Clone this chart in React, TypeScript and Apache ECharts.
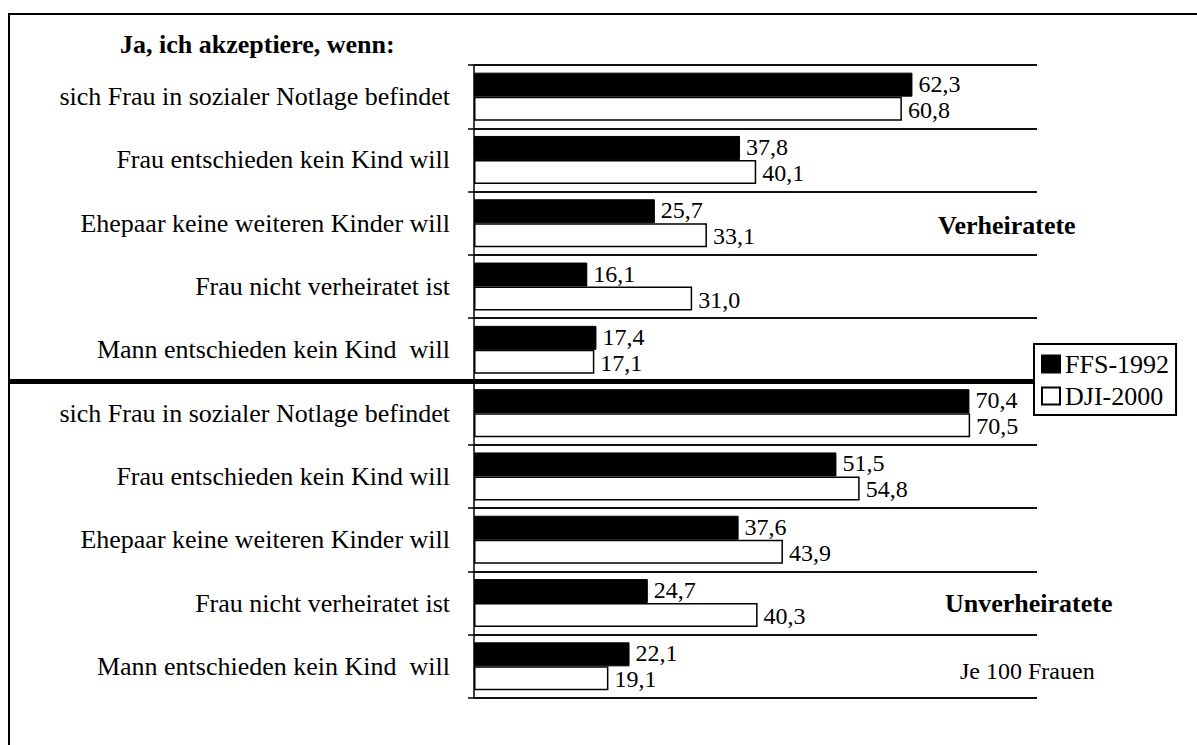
import React, { useEffect, useRef } from "react";
import * as echarts from "echarts";

const GROUP_LABELS = [
  "sich Frau in sozialer Notlage befindet",
  "Frau entschieden kein Kind will",
  "Ehepaar keine weiteren Kinder will",
  "Frau nicht verheiratet ist",
  "Mann entschieden kein Kind  will",
];
const CATEGORIES = [...GROUP_LABELS, ...GROUP_LABELS];
const FFS_1992 = [62.3, 37.8, 25.7, 16.1, 17.4, 70.4, 51.5, 37.6, 24.7, 22.1];
const DJI_2000 = [60.8, 40.1, 33.1, 31.0, 17.1, 70.5, 54.8, 43.9, 40.3, 19.1];
const SERIES_NAMES = ["FFS-1992", "DJI-2000"];
const X_MAX = 80;

const FAMILY = "Liberation Serif";

export default function App() {
  const ref = useRef<HTMLDivElement>(null);
  useEffect(() => {
    if (!ref.current) return;
    const chart = echarts.init(ref.current, undefined, { renderer: "svg" });
    const H = 745;
    const gridLeft = 474;
    const gridRight = 160;
    const gridTop = 65;
    const gridBottom = 47;
    const band = (H - gridTop - gridBottom) / CATEGORIES.length;
    const sepY = gridTop + band * 5;
    const fmt = (p: any) => Number(p.value).toFixed(1).replace(".", ",");
    const valueLabel = (dy: number) => ({
      show: true,
      position: "right",
      distance: 6,
      offset: [0, dy],
      fontFamily: FAMILY,
      fontSize: 24,
      lineHeight: 22,
      color: "#000",
      formatter: fmt,
    });

    chart.setOption({
      animation: false,
      backgroundColor: "#ffffff",
      textStyle: { fontFamily: FAMILY, color: "#000" },
      grid: { left: gridLeft, right: gridRight, top: gridTop, bottom: gridBottom, containLabel: false },
      xAxis: {
        type: "value",
        min: 0,
        max: X_MAX,
        show: false,
        splitLine: { show: false },
      },
      yAxis: {
        type: "category",
        inverse: true,
        data: CATEGORIES,
        axisLine: { show: true, lineStyle: { color: "#000", width: 1.5 } },
        axisTick: { show: true, length: 6, lineStyle: { color: "#000", width: 1.5 } },
        axisLabel: { fontFamily: FAMILY, fontSize: 26, color: "#000", margin: 24 },
        splitLine: { show: true, lineStyle: { color: "#111", width: 2 } },
      },
      legend: {
        orient: "vertical",
        left: 1034,
        top: 344,
        padding: [7, 7, 6, 7],
        itemGap: 6,
        itemWidth: 18,
        itemHeight: 17,
        backgroundColor: "#fff",
        borderColor: "#000",
        borderWidth: 2,
        icon: "rect",
        textStyle: { fontFamily: FAMILY, fontSize: 26, color: "#000" },
        data: SERIES_NAMES,
      },
      series: [
        {
          name: SERIES_NAMES[0],
          type: "bar",
          data: FFS_1992,
          barWidth: 24,
          barGap: "0%",
          itemStyle: { color: "#000", borderColor: "#000", borderWidth: 1 },
          label: valueLabel(-1),
        },
        {
          name: SERIES_NAMES[1],
          type: "bar",
          data: DJI_2000,
          barWidth: 24,
          barGap: "0%",
          itemStyle: { color: "#fff", borderColor: "#000", borderWidth: 1.5 },
          label: valueLabel(1),
        },
      ],
      graphic: [
        {
          type: "rect",
          shape: { x: 9, y: 14, width: 1400, height: 900 },
          style: { fill: "none", stroke: "#000", lineWidth: 2 },
          silent: true,
          z: 0,
        },
        {
          type: "line",
          shape: { x1: 9, y1: sepY, x2: 1034, y2: sepY },
          style: { stroke: "#000", lineWidth: 5 },
          z: 10,
        },
        {
          type: "text",
          left: 120,
          top: 31,
          style: { text: "Ja, ich akzeptiere, wenn:", font: `bold 26px "${FAMILY}"`, fill: "#000" },
        },
        {
          type: "text",
          left: 938,
          top: 212,
          style: { text: "Verheiratete", font: `bold 26px "${FAMILY}"`, fill: "#000" },
        },
        {
          type: "text",
          left: 945,
          top: 590,
          style: { text: "Unverheiratete", font: `bold 26px "${FAMILY}"`, fill: "#000" },
        },
        {
          type: "text",
          left: 960,
          top: 659,
          style: { text: "Je 100 Frauen", font: `24px "${FAMILY}"`, fill: "#000" },
        },
      ],
    });
    return () => chart.dispose();
  }, []);
  return (
    <div
      ref={ref}
      style={{ position: "fixed", left: 0, top: 0, width: 1197, height: 745, background: "#fff" }}
    />
  );
}
